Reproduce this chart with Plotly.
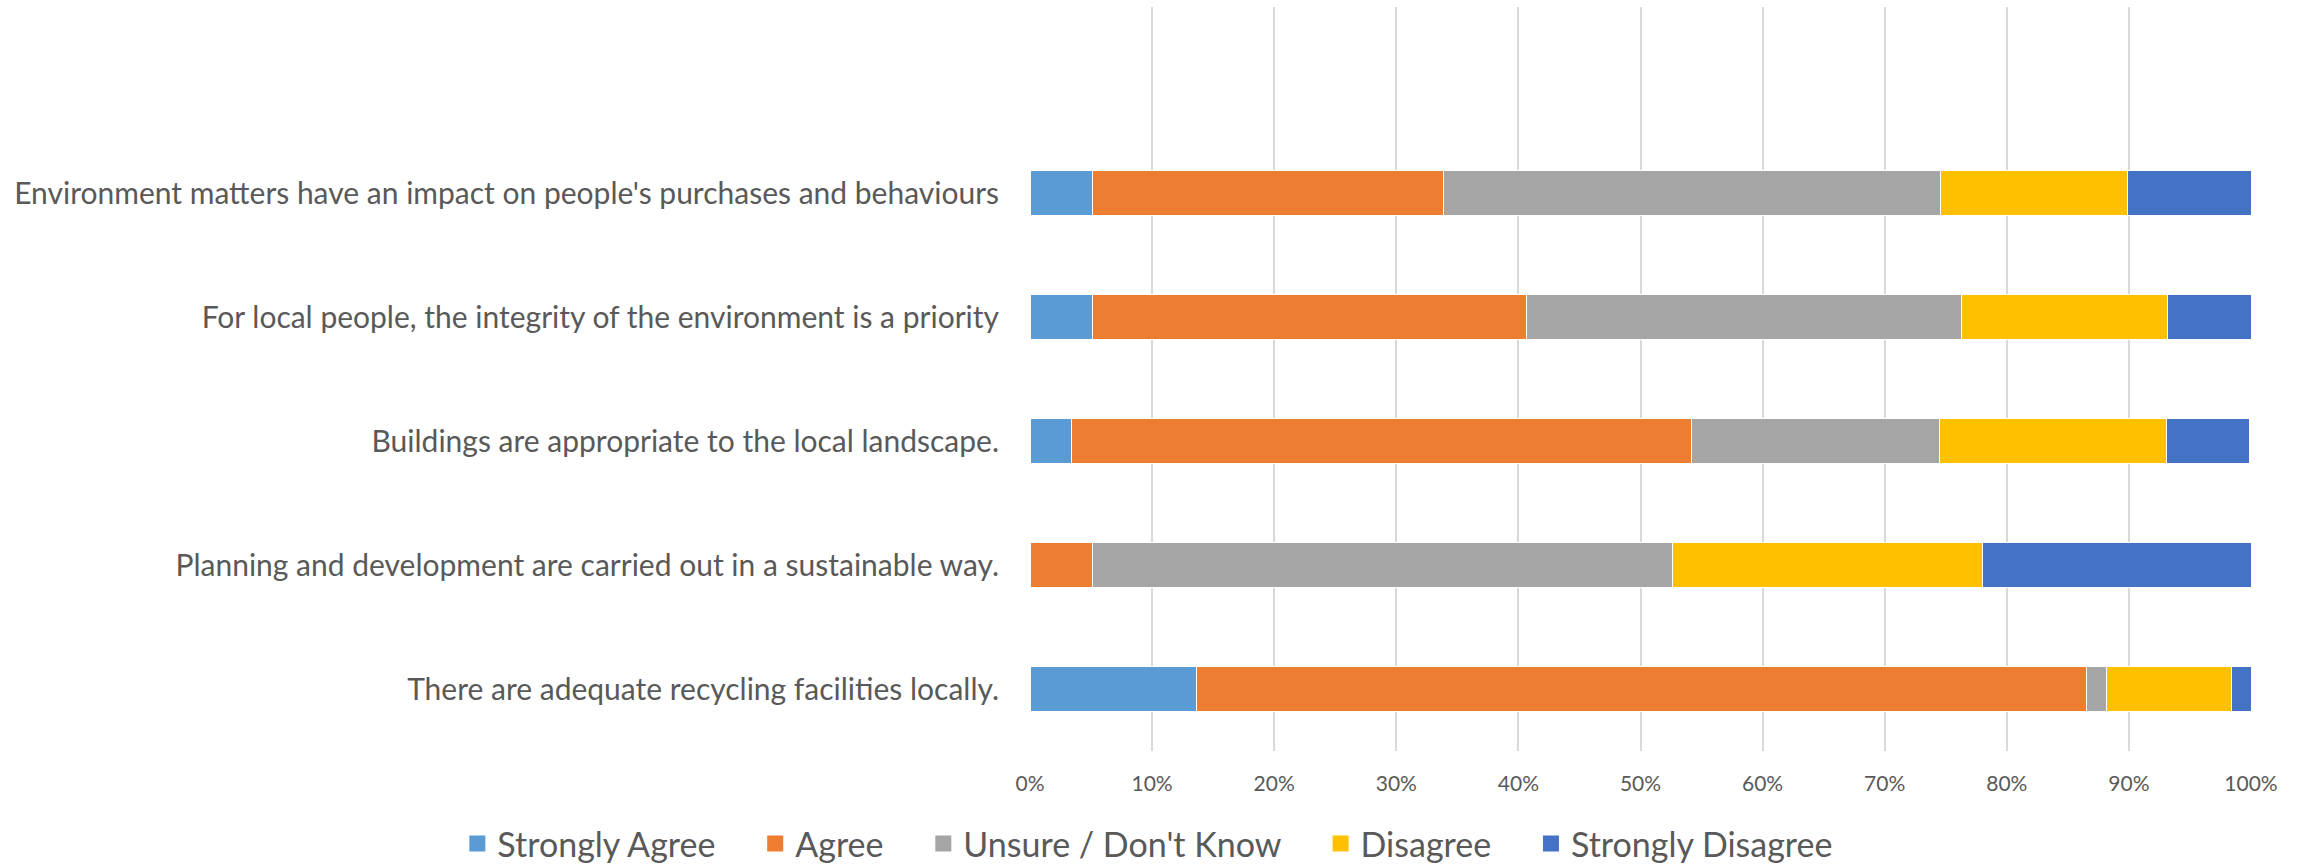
import plotly.graph_objects as go

# Survey statements, listed bottom to top as plotted
statements = [
    "There are adequate recycling facilities locally.",
    "Planning and development are carried out in a sustainable way.",
    "Buildings are appropriate to the local landscape.",
    "For local people, the integrity of the environment is a priority",
    "Environment matters have an impact on people's purchases and behaviours",
]

# Share of responses (%) per answer, same order as statements
strongly_agree = [13.6, 0.0, 3.4, 5.1, 5.1]
agree = [72.9, 5.1, 50.8, 35.6, 28.8]
unsure = [1.7, 47.5, 20.3, 35.6, 40.7]
disagree = [10.2, 25.4, 18.6, 16.9, 15.3]
strongly_disagree = [1.7, 22.0, 6.8, 6.8, 10.2]

x_ticks = [0, 10, 20, 30, 40, 50, 60, 70, 80, 90, 100]

series = [
    ("Strongly Agree", strongly_agree, "#5B9BD5"),
    ("Agree", agree, "#ED7D31"),
    ("Unsure / Don't Know", unsure, "#A5A5A5"),
    ("Disagree", disagree, "#FFC000"),
    ("Strongly Disagree", strongly_disagree, "#4472C4"),
]

FONT = "Lato"
TEXT = "#595959"
PAD = "\u00a0" * 4  # extra room between legend entries

fig = go.Figure()
for i, (name, vals, color) in enumerate(series):
    fig.add_trace(
        go.Bar(
            y=statements,
            x=vals,
            name=name,
            orientation="h",
            marker=dict(color=color, line=dict(color="white", width=1)),
            showlegend=False,
        )
    )
    # bigger square swatch for the legend
    fig.add_trace(
        go.Scatter(
            x=[None],
            y=[None],
            mode="markers",
            name=name + (PAD if i < len(series) - 1 else ""),
            marker=dict(symbol="square", size=20, color=color),
        )
    )

fig.update_layout(
    barmode="stack",
    bargap=0.64,
    width=2305,
    height=865,
    paper_bgcolor="white",
    plot_bgcolor="white",
    margin=dict(l=1030, r=54, t=7, b=114, autoexpand=False),
    font=dict(family=FONT, color=TEXT),
    # anchored left of the plot area so it may span the full width on one row
    legend=dict(
        orientation="h",
        x=-0.469,
        xanchor="left",
        y=-0.125,
        yanchor="middle",
        font=dict(size=34, color=TEXT),
        traceorder="normal",
        itemsizing="trace",
    ),
    xaxis=dict(
        range=[0, 100],
        tickvals=x_ticks,
        ticktext=[f"{v}%" for v in x_ticks],
        showgrid=True,
        gridcolor="#D9D9D9",
        gridwidth=1.5,
        zeroline=False,
        ticks="outside",
        ticklen=14,
        tickcolor="rgba(0,0,0,0)",
        tickfont=dict(size=21, color=TEXT),
    ),
    yaxis=dict(
        type="category",
        range=[-0.5, 5.5],
        showgrid=False,
        ticks="outside",
        ticklen=24,
        tickcolor="rgba(0,0,0,0)",
        tickfont=dict(size=30, color=TEXT),
    ),
)

# drop the default 8px page margin so the figure fills the window exactly
fig.write_html(
    "out.html",
    config={"displayModeBar": False},
    post_script="document.body.style.margin = '0';",
)
